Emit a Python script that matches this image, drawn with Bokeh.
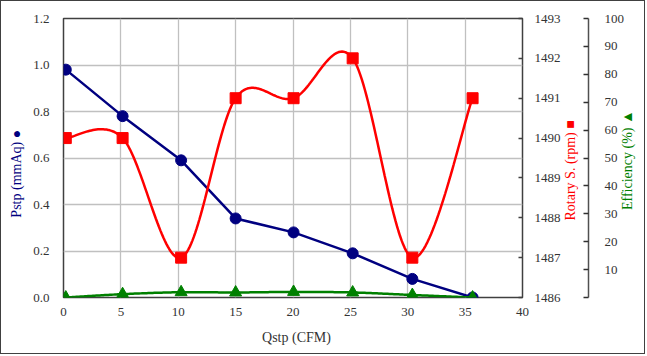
import numpy as np
from math import pi
from bokeh.plotting import figure
from bokeh.models import Range1d, LinearAxis, FixedTicker, NumeralTickFormatter
from bokeh.embed import file_html
from bokeh.resources import INLINE

# ---- data ----
qstp = [0.2, 5.15, 10.25, 15.0, 20.05, 25.2, 30.4, 35.65]          # Qstp (CFM)
pstp = [0.98, 0.78, 0.59, 0.34, 0.28, 0.19, 0.08, 0.0]              # Pstp (mmAq)
rotary = [1490, 1490, 1487, 1491, 1491, 1492, 1487, 1491]           # Rotary S. (rpm)
efficiency = [0.0, 1.2, 1.9, 1.8, 2.0, 1.8, 0.9, 0.0]               # Efficiency (%)

x_ticks = [0, 5, 10, 15, 20, 25, 30, 35, 40]
y_ticks = [0.0, 0.2, 0.4, 0.6, 0.8, 1.0, 1.2]
rpm_ticks = [1486, 1487, 1488, 1489, 1490, 1491, 1492, 1493]
eff_ticks = [0, 10, 20, 30, 40, 50, 60, 70, 80, 90, 100]

FONT = "Liberation Serif"
NAVY, RED, GREEN = "#000080", "#FF0000", "#008000"
TXT = "#333333"
NB = "\u00a0"   # 0.25 em
EN = "\u2002"   # 0.5 em
EM = "\u2003"   # 1 em


def smooth(xs, ys, n=40):
    """Excel-like smoothed line (Catmull-Rom Bezier) through the data points."""
    pts = np.column_stack([xs, ys]).astype(float)
    ext = np.vstack([pts[0], pts, pts[-1]])
    out = []
    t = np.linspace(0, 1, n)[:, None]
    for i in range(len(pts) - 1):
        p0, p1, p2, p3 = ext[i], ext[i + 1], ext[i + 2], ext[i + 3]
        c1 = p1 + (p2 - p0) / 6.0
        c2 = p2 - (p3 - p1) / 6.0
        seg = (1 - t) ** 3 * p1 + 3 * (1 - t) ** 2 * t * c1 + 3 * (1 - t) * t ** 2 * c2 + t ** 3 * p2
        out.append(seg if i == 0 else seg[1:])
    arr = np.vstack(out)
    return arr[:, 0], arr[:, 1]


W, H = 645, 354
ML, MT, MR, MB = 62, 17, 124, 58

p = figure(width=W, height=H, x_range=Range1d(0, 40), y_range=Range1d(0, 1.2),
           output_backend="svg", toolbar_location=None,
           min_border_left=ML, min_border_top=MT, min_border_right=MR, min_border_bottom=MB)
p.styles = {"border": "1px solid #404040"}          # outer chart border
p.extra_y_ranges = {"rpm": Range1d(1486, 1493), "eff": Range1d(0, 100)}
p.background_fill_color = "white"
p.border_fill_color = "white"
p.outline_line_color = "#404040"
p.outline_line_width = 1.5

# grids
p.xgrid.ticker = FixedTicker(ticks=x_ticks)
p.ygrid.ticker = FixedTicker(ticks=y_ticks)
for g in (p.xgrid, p.ygrid):
    g.grid_line_color = "#c0c0c0"
    g.grid_line_width = 1.3

PROPS = LinearAxis.properties()
CAN_ORIENT = "axis_label_orientation" in PROPS
CAN_ALIGN = "axis_label_align" in PROPS


def style_title(ax, text, color, standoff):
    ax.axis_label = text
    ax.axis_label_text_font = FONT
    ax.axis_label_text_font_style = "normal"
    ax.axis_label_text_font_size = "14px"
    ax.axis_label_text_color = color
    ax.axis_label_standoff = standoff


def style_labels(ax, standoff):
    ax.minor_tick_line_color = None
    ax.major_label_standoff = standoff
    ax.major_label_text_font = FONT
    ax.major_label_text_font_size = "13px"
    ax.major_label_text_color = TXT


def right_title(ax, text, marker, color, standoff, lead):
    if CAN_ORIENT:
        ax.axis_label_orientation = pi / 2          # reads bottom -> top
        if CAN_ALIGN:
            ax.axis_label_align = "start"
            style_title(ax, lead + text + " " + marker, color, standoff)
        else:
            style_title(ax, text + " " + marker, color, standoff)
    else:
        style_title(ax, marker + " " + text, color, standoff)


# bottom axis
xa = p.xaxis[0]
xa.ticker = FixedTicker(ticks=x_ticks)
style_title(xa, NB * 2 + "Qstp (CFM)", TXT, 11)
style_labels(xa, 10)

# left axis
ya = p.yaxis[0]
ya.ticker = FixedTicker(ticks=y_ticks)
ya.formatter = NumeralTickFormatter(format="0.0")
style_title(ya, "Pstp (mmAq) \u25CF" + NB * 9, NAVY, 6)
style_labels(ya, 14)

for ax in (xa, ya):
    ax.axis_line_color = None
    ax.major_tick_in = 0
    ax.major_tick_out = 0

# right axis 1: rotary speed (inner)
rpm_ax = LinearAxis(y_range_name="rpm", ticker=FixedTicker(ticks=rpm_ticks))
rpm_ax.axis_line_color = None
rpm_ax.major_tick_in = 4
rpm_ax.major_tick_out = 0
rpm_ax.major_tick_line_color = "#404040"
rpm_ax.major_tick_line_width = 1.5
style_labels(rpm_ax, 12)
right_title(rpm_ax, "Rotary S. (rpm)", "\u25A0", RED, 7, EM * 5 + EN)
p.add_layout(rpm_ax, "right")

# spacer between the two right axes (draws nothing, only takes room)
gap_ax = LinearAxis(y_range_name="rpm", ticker=FixedTicker(ticks=[]))
gap_ax.axis_line_color = None
gap_ax.major_tick_line_color = None
gap_ax.minor_tick_line_color = None
gap_ax.major_tick_in = 0
gap_ax.major_tick_out = 11
gap_ax.major_label_standoff = 0
p.add_layout(gap_ax, "right")

# right axis 2: efficiency (outer)
eff_ax = LinearAxis(y_range_name="eff", ticker=FixedTicker(ticks=eff_ticks))
eff_ax.axis_line_color = "#505050"
eff_ax.axis_line_width = 1.5
eff_ax.major_tick_in = 5
eff_ax.major_tick_out = 0
eff_ax.major_tick_line_color = "#303030"
eff_ax.major_tick_line_width = 1.5
style_labels(eff_ax, 16)
eff_ax.major_label_overrides = {0: ""}
right_title(eff_ax, "Efficiency (%)", "\u25B2", GREEN, 0, EM * 6 + NB)
p.add_layout(eff_ax, "right")

# series
p.line(qstp, pstp, line_color=NAVY, line_width=2.5)
p.scatter(qstp, pstp, marker="circle", size=11, fill_color=NAVY, line_color=NAVY)

rx, ry = smooth(qstp, rotary)
p.line(rx, ry, line_color=RED, line_width=2.5, y_range_name="rpm")
p.scatter(qstp, rotary, marker="square", size=11, fill_color=RED, line_color=RED, y_range_name="rpm")

ex, ey = smooth(qstp, efficiency)
p.line(ex, ey, line_color=GREEN, line_width=2.5, y_range_name="eff")
p.scatter(qstp, efficiency, marker="triangle", size=12, fill_color=GREEN, line_color=GREEN, y_range_name="eff")

open("out.html", "w").write(file_html(p, INLINE))
